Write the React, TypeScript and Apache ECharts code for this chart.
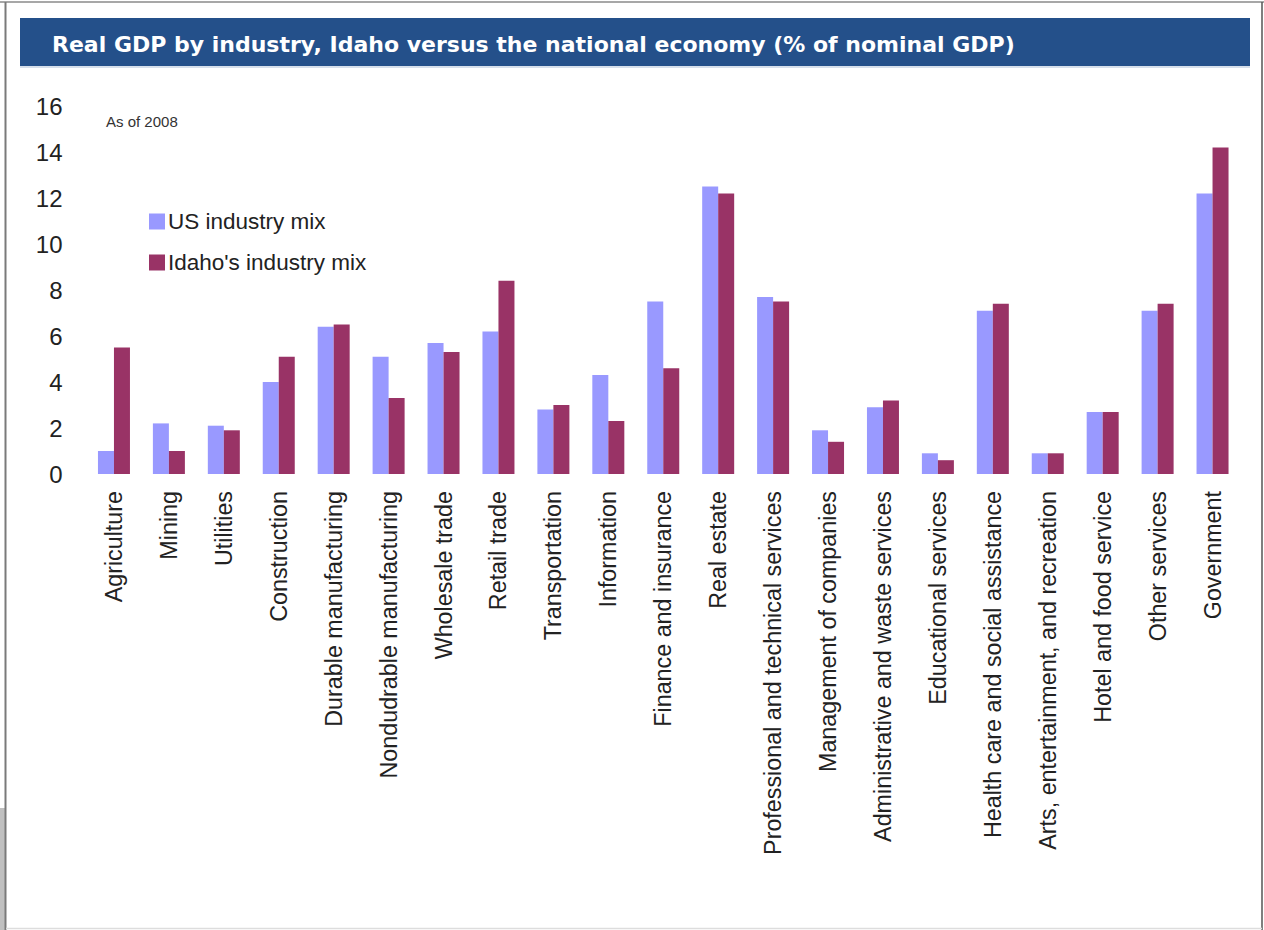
import React, { useEffect, useRef } from "react";
import * as echarts from "echarts";

const categories = [
  "Agriculture",
  "Mining",
  "Utilities",
  "Construction",
  "Durable manufacturing",
  "Nondudrable manufacturing",
  "Wholesale trade",
  "Retail trade",
  "Transportation",
  "Information",
  "Finance and insurance",
  "Real estate",
  "Professional and technical services",
  "Management of companies",
  "Administrative and waste services",
  "Educational services",
  "Health care and social assistance",
  "Arts, entertainment, and recreation",
  "Hotel and food service",
  "Other services",
  "Government",
];

const usMix = [1.0, 2.2, 2.1, 4.0, 6.4, 5.1, 5.7, 6.2, 2.8, 4.3, 7.5, 12.5, 7.7, 1.9, 2.9, 0.9, 7.1, 0.9, 2.7, 7.1, 12.2];
const idahoMix = [5.5, 1.0, 1.9, 5.1, 6.5, 3.3, 5.3, 8.4, 3.0, 2.3, 4.6, 12.2, 7.5, 1.4, 3.2, 0.6, 7.4, 0.9, 2.7, 7.4, 14.2];

const seriesNames = ["US industry mix", "Idaho's industry mix"];
const titleText = "Real GDP by industry, Idaho versus the national economy (% of nominal GDP)";
const noteText = "As of 2008";

export default function App() {
  const ref = useRef<HTMLDivElement>(null);
  useEffect(() => {
    if (!ref.current) return;
    const chart = echarts.init(ref.current, null, { renderer: "svg" });
    const font = "'Liberation Sans', Arial, sans-serif";
    chart.setOption({
      animation: false,
      backgroundColor: "#ffffff",
      grid: { left: 86.5, right: 24, top: 106, bottom: 456, containLabel: false },
      legend: {
        orient: "vertical",
        left: 144,
        top: 205,
        itemWidth: 16,
        itemHeight: 16,
        itemGap: 18,
        icon: "rect",
        textStyle: { fontFamily: font, fontSize: 22.5, color: "#222", lineHeight: 23, padding: [0, 0, 0, -2] },
        data: seriesNames,
      },
      xAxis: {
        type: "category",
        data: categories,
        axisLine: { show: false },
        axisTick: { show: false },
        axisLabel: {
          interval: 0,
          rotate: 90,
          margin: 17,
          fontFamily: font,
          fontSize: 23.3,
          color: "#222",
        },
      },
      yAxis: {
        type: "value",
        min: 0,
        max: 16,
        interval: 2,
        axisLine: { show: false },
        axisTick: { show: false },
        splitLine: { show: false },
        axisLabel: { fontFamily: font, fontSize: 24, color: "#222", margin: 24 },
      },
      series: [
        {
          name: seriesNames[0],
          type: "bar",
          data: usMix,
          barWidth: 16,
          barGap: "0%",
          itemStyle: { color: "#9999FF" },
        },
        {
          name: seriesNames[1],
          type: "bar",
          data: idahoMix,
          barWidth: 16,
          barGap: "0%",
          itemStyle: { color: "#993366" },
        },
      ],
      graphic: [
        { type: "rect", shape: { x: 0, y: 808, width: 5, height: 122 }, style: { fill: "#c0c0c0" }, silent: true },
        { type: "line", shape: { x1: 0, y1: 2, x2: 1264, y2: 2 }, style: { stroke: "#8a8a8a", lineWidth: 1.5 }, silent: true },
        { type: "line", shape: { x1: 5.5, y1: 2, x2: 5.5, y2: 930 }, style: { stroke: "#7a7a7a", lineWidth: 2 }, silent: true },
        { type: "line", shape: { x1: 1262, y1: 2, x2: 1262, y2: 930 }, style: { stroke: "#555", lineWidth: 1.5 }, silent: true },
        { type: "line", shape: { x1: 6, y1: 928.5, x2: 1262, y2: 928.5 }, style: { stroke: "#dddddd", lineWidth: 1.5 }, silent: true },
        { type: "rect", shape: { x: 20, y: 18, width: 1230, height: 48 }, style: { fill: "#24508A" }, silent: true },
        { type: "line", shape: { x1: 20, y1: 67, x2: 1250, y2: 67 }, style: { stroke: "#c8d4e4", lineWidth: 1.5 }, silent: true },
        {
          type: "text",
          left: 52,
          top: 33,
          style: {
            text: titleText,
            fill: "#ffffff",
            font: "bold 22px 'DejaVu Sans', sans-serif",
          },
          silent: true,
        },
        {
          type: "text",
          left: 106,
          top: 114,
          style: { text: noteText, fill: "#333", font: "15px 'Liberation Sans', Arial, sans-serif" },
          silent: true,
        },
      ],
    });
    return () => chart.dispose();
  }, []);
  return <div ref={ref} style={{ position: "fixed", left: 0, top: 0, width: 1264, height: 930 }} />;
}
